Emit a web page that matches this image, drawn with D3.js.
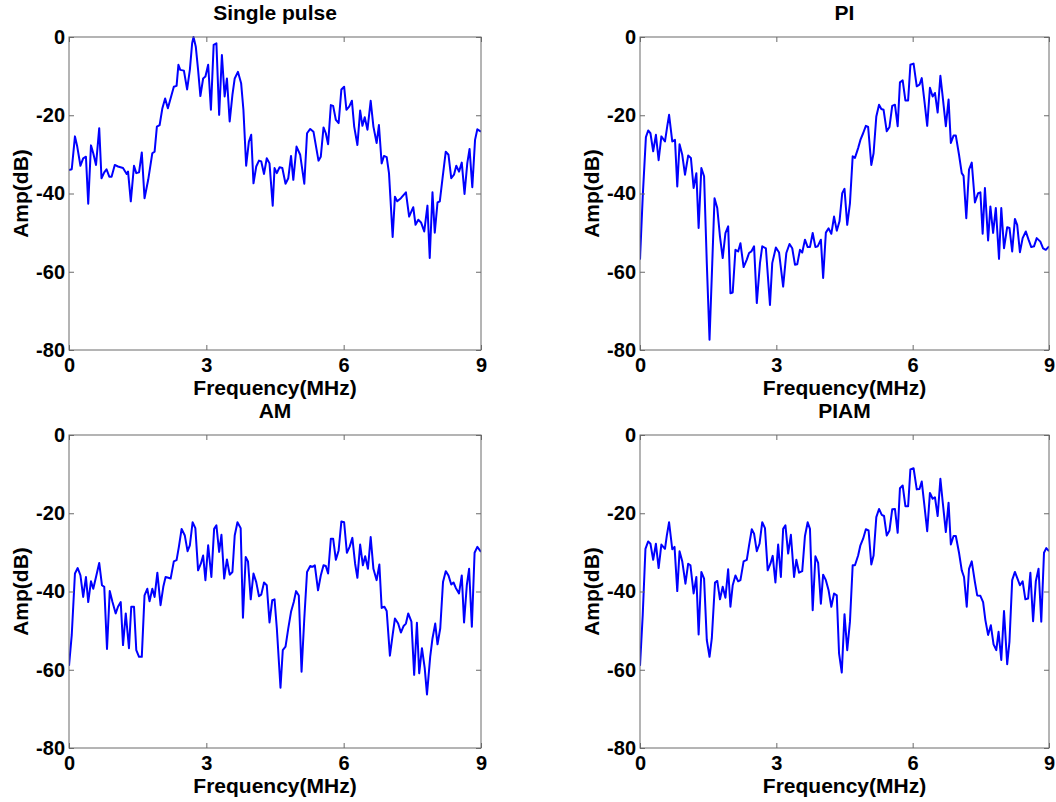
<!DOCTYPE html>
<html>
<head>
<meta charset="utf-8">
<script src="https://cdn.jsdelivr.net/npm/d3@7"></script>
<style>
  html, body { margin: 0; padding: 0; background: #ffffff; }
  svg { display: block; }
  text { font-family: "Liberation Sans", Arial, sans-serif; font-weight: bold; fill: #000; }
</style>
</head>
<body>
<svg id="chart" width="1056" height="802"></svg>
<script>
// ---- Data (frequency in MHz, amplitude in dB) ----
const titles = ["Single pulse", "PI", "AM", "PIAM"];
const xTicks = [0, 3, 6, 9];
const yTicks = [0, -20, -40, -60, -80];
const xLabel = "Frequency(MHz)";
const yLabel = "Amp(dB)";

const freqSingle = [0,0.06,0.13,0.18,0.25,0.31,0.37,0.42,0.48,0.53,
0.59,0.66,0.71,0.77,0.82,0.88,0.93,1.00,1.07,1.18,
1.26,1.29,1.35,1.42,1.47,1.53,1.59,1.65,1.73,1.82,
1.87,1.92,1.98,2.04,2.10,2.16,2.24,2.29,2.35,2.39,
2.43,2.51,2.58,2.64,2.69,2.72,2.77,2.82,2.87,2.93,
2.98,3.04,3.10,3.16,3.22,3.28,3.34,3.40,3.45,3.51,
3.57,3.62,3.69,3.76,3.81,3.87,3.93,3.98,4.03,4.09,
4.15,4.20,4.26,4.32,4.38,4.45,4.49,4.54,4.60,4.66,
4.73,4.79,4.85,4.90,4.97,5.05,5.14,5.20,5.27,5.34,
5.45,5.50,5.56,5.61,5.66,5.72,5.77,5.83,5.89,5.95,
6.01,6.06,6.12,6.18,6.23,6.30,6.36,6.41,6.46,6.52,
6.59,6.65,6.72,6.77,6.83,6.88,6.94,6.99,7.07,7.12,
7.17,7.25,7.36,7.43,7.52,7.57,7.63,7.69,7.76,7.83,
7.88,7.94,7.99,8.05,8.10,8.16,8.23,8.29,8.35,8.41,
8.46,8.52,8.58,8.64,8.70,8.75,8.81,8.87,8.92,9.00];
const ampSingle = [-34.0,-33.8,-25.4,-28.0,-32.9,-31.0,-30.6,-42.6,-27.7,-29.7,
-32.7,-23.3,-36.1,-34.6,-33.8,-35.7,-35.7,-32.7,-33.1,-33.5,
-35.0,-34.4,-42.0,-32.9,-34.8,-34.6,-29.5,-41.2,-36.5,-29.7,
-29.3,-22.9,-22.5,-18.2,-15.7,-18.2,-14.8,-12.7,-12.5,-7.1,
-8.4,-8.6,-13.4,-8.4,-1.6,0,-2.5,-8.4,-15.1,-10.6,
-10.1,-7.1,-18.6,-2.0,-1.6,-19.9,-4.6,-15.2,-10.6,-21.6,
-14.8,-10.6,-8.9,-11.8,-18.6,-32.9,-26.7,-25.0,-37.4,-33.1,
-31.6,-31.8,-35.0,-31.0,-32.3,-43.1,-33.5,-34.8,-33.3,-33.5,
-37.5,-36.1,-30.4,-36.5,-28.0,-30.1,-37.5,-24.6,-23.5,-24.2,
-31.6,-30.6,-23.1,-24.6,-27.4,-17.4,-17.6,-21.2,-22.0,-13.4,
-12.7,-18.6,-17.8,-16.3,-22.9,-27.6,-18.8,-22.7,-20.5,-23.7,
-16.3,-22.9,-27.1,-22.5,-32.3,-30.4,-30.7,-34.8,-51.1,-40.8,
-42.0,-41.2,-39.7,-45.9,-43.5,-48.0,-46.7,-47.4,-49.7,-43.1,
-56.5,-39.7,-50.0,-42.3,-42.0,-36.1,-29.3,-30.1,-36.1,-35.2,
-32.9,-34.4,-32.1,-40.1,-32.3,-28.6,-38.4,-26.3,-23.6,-24.2];

const freqPI = [0,0.06,0.13,0.18,0.23,0.29,0.35,0.41,0.47,0.55,
0.60,0.64,0.71,0.77,0.82,0.87,0.93,0.99,1.06,1.12,
1.18,1.24,1.29,1.35,1.41,1.47,1.53,1.59,1.64,1.70,
1.76,1.82,1.88,1.94,1.99,2.04,2.10,2.16,2.21,2.28,
2.35,2.40,2.45,2.51,2.57,2.64,2.69,2.77,2.86,2.91,
2.99,3.06,3.15,3.22,3.29,3.35,3.41,3.46,3.52,3.57,
3.63,3.69,3.74,3.80,3.86,3.91,3.98,4.03,4.09,4.15,
4.21,4.27,4.33,4.39,4.45,4.50,4.56,4.62,4.68,4.73,
4.80,4.85,4.91,4.97,5.02,5.09,5.14,5.20,5.26,5.31,
5.36,5.43,5.49,5.55,5.61,5.67,5.72,5.78,5.84,5.90,
5.95,6.02,6.09,6.15,6.20,6.26,6.32,6.38,6.44,6.49,
6.55,6.61,6.66,6.73,6.79,6.84,6.90,6.95,7.02,7.08,
7.12,7.18,7.24,7.30,7.37,7.44,7.49,7.54,7.59,7.66,
7.71,7.77,7.83,7.90,7.95,8.01,8.08,8.13,8.19,8.25,
8.30,8.36,8.42,8.49,8.55,8.61,8.67,8.73,8.81,8.87,
8.93,9.00];
const ampPI = [-56.9,-40.8,-25.6,-23.9,-24.6,-29.2,-25.0,-31.5,-25.4,-26.7,
-22.8,-19.9,-26.7,-26.3,-38.2,-27.4,-30.1,-35.2,-30.3,-30.9,
-38.6,-34.8,-48.8,-33.5,-35.6,-57.8,-77.4,-57.8,-41.2,-43.7,
-51.0,-56.5,-50.1,-48.4,-65.5,-65.3,-54.4,-54.8,-52.7,-58.8,
-56.9,-55.2,-54.8,-53.5,-68.0,-57.8,-53.5,-54.0,-68.5,-57.8,
-53.8,-55.1,-63.8,-55.2,-52.9,-54.0,-58.2,-58.1,-54.4,-55.1,
-51.8,-53.7,-53.7,-50.1,-53.7,-53.5,-51.8,-61.6,-50.0,-48.9,
-50.3,-45.9,-49.5,-47.1,-39.9,-38.8,-48.0,-42.5,-30.5,-30.9,
-28.4,-26.3,-24.6,-22.7,-23.0,-32.7,-29.7,-20.3,-17.3,-18.4,
-18.6,-24.1,-23.0,-17.6,-17.3,-22.8,-11.6,-11.1,-16.2,-16.2,
-7.1,-6.8,-12.6,-12.2,-10.5,-16.5,-22.7,-13.0,-15.2,-14.3,
-19.3,-9.9,-15.2,-22.8,-16.0,-27.1,-25.2,-25.2,-30.1,-34.8,
-35.5,-46.3,-33.9,-32.1,-42.3,-39.9,-39.7,-50.3,-38.6,-52.0,
-43.3,-50.1,-43.7,-56.7,-43.7,-54.0,-48.6,-48.8,-54.8,-46.5,
-48.0,-55.0,-51.4,-49.7,-51.8,-53.7,-53.5,-51.4,-52.3,-54.0,
-54.4,-53.5];

const freqAM = [0,0.06,0.13,0.19,0.25,0.31,0.37,0.42,0.48,0.53,
0.59,0.66,0.72,0.77,0.83,0.89,0.95,1.02,1.07,1.13,
1.18,1.24,1.31,1.36,1.42,1.47,1.53,1.59,1.65,1.71,
1.76,1.82,1.87,1.93,2.00,2.06,2.11,2.17,2.22,2.29,
2.35,2.40,2.46,2.53,2.59,2.64,2.70,2.76,2.82,2.88,
2.93,2.98,3.04,3.11,3.17,3.22,3.28,3.33,3.39,3.45,
3.51,3.57,3.62,3.68,3.75,3.80,3.86,3.91,3.97,4.03,
4.09,4.15,4.20,4.26,4.32,4.38,4.44,4.49,4.54,4.62,
4.67,4.73,4.79,4.85,4.91,4.96,5.02,5.08,5.14,5.20,
5.27,5.32,5.37,5.44,5.50,5.56,5.61,5.66,5.72,5.77,
5.83,5.89,5.95,6.01,6.07,6.13,6.19,6.25,6.30,6.36,
6.42,6.47,6.53,6.59,6.65,6.72,6.78,6.83,6.89,6.94,
7.01,7.07,7.12,7.19,7.25,7.31,7.36,7.41,7.48,7.54,
7.60,7.65,7.71,7.77,7.82,7.89,7.94,8.00,8.05,8.11,
8.17,8.23,8.29,8.35,8.40,8.45,8.52,8.58,8.63,8.69,
8.74,8.80,8.86,8.92,9.00];
const ampAM = [-59.0,-51.1,-35.4,-34.0,-35.9,-41.4,-36.3,-42.7,-37.4,-39.3,
-36.3,-32.7,-38.4,-38.8,-54.7,-39.9,-42.7,-45.6,-43.9,-42.7,
-53.7,-45.6,-54.5,-43.9,-43.9,-55.0,-56.7,-56.7,-41.0,-39.3,
-42.5,-39.3,-41.4,-35.2,-43.5,-38.8,-36.3,-36.5,-36.7,-32.3,
-32.0,-28.6,-24.0,-25.7,-29.7,-28.2,-22.3,-23.8,-34.6,-32.9,
-30.8,-37.1,-28.2,-36.3,-24.0,-23.1,-29.9,-25.5,-36.7,-31.8,
-35.7,-35.0,-25.7,-22.3,-23.8,-46.7,-31.2,-32.3,-42.0,-35.4,
-37.6,-41.2,-40.8,-37.7,-38.4,-47.9,-42.2,-42.0,-49.4,-64.6,
-55.0,-54.1,-49.4,-45.2,-42.7,-39.9,-41.0,-60.5,-46.9,-35.0,
-33.5,-33.7,-33.3,-39.7,-35.9,-33.3,-33.5,-35.4,-26.5,-26.5,
-31.9,-29.5,-22.1,-22.3,-30.1,-28.6,-26.3,-32.9,-36.5,-28.0,
-33.3,-31.0,-34.2,-26.1,-34.2,-37.1,-33.1,-44.2,-43.9,-45.0,
-56.4,-51.1,-46.9,-48.2,-50.5,-48.8,-48.2,-45.6,-47.7,-61.3,
-48.0,-60.9,-54.5,-59.5,-66.3,-56.7,-52.0,-48.2,-53.5,-49.4,
-37.6,-34.8,-35.9,-38.2,-37.7,-39.1,-40.5,-35.9,-47.9,-38.4,
-34.2,-49.0,-30.1,-28.6,-29.9];

const freqPIAM = [0,0.06,0.12,0.18,0.23,0.29,0.35,0.41,0.47,0.55,
0.59,0.64,0.71,0.76,0.82,0.87,0.93,1.00,1.06,1.11,
1.18,1.24,1.29,1.35,1.41,1.47,1.53,1.58,1.65,1.70,
1.76,1.82,1.88,1.94,1.99,2.04,2.10,2.16,2.21,2.28,
2.35,2.40,2.46,2.51,2.57,2.63,2.69,2.75,2.81,2.87,
2.92,2.98,3.04,3.10,3.15,3.20,3.26,3.32,3.39,3.44,
3.50,3.57,3.63,3.69,3.74,3.80,3.86,3.92,3.98,4.03,
4.09,4.15,4.21,4.27,4.33,4.38,4.44,4.50,4.56,4.62,
4.68,4.73,4.80,4.85,4.91,4.97,5.03,5.09,5.14,5.20,
5.26,5.32,5.37,5.43,5.49,5.55,5.61,5.67,5.72,5.78,
5.84,5.90,5.95,6.02,6.09,6.15,6.20,6.26,6.32,6.38,
6.44,6.49,6.55,6.61,6.66,6.73,6.79,6.84,6.90,6.95,
7.02,7.08,7.13,7.19,7.24,7.30,7.37,7.42,7.49,7.55,
7.60,7.66,7.72,7.78,7.84,7.89,7.95,8.01,8.08,8.13,
8.19,8.25,8.30,8.36,8.42,8.48,8.54,8.59,8.65,8.71,
8.77,8.83,8.89,8.94,9.00];
const ampPIAM = [-59.0,-46.0,-29.1,-27.2,-27.8,-31.9,-27.8,-34.0,-28.0,-29.1,
-25.7,-22.3,-29.2,-28.6,-39.9,-29.7,-32.3,-38.0,-32.9,-33.3,
-40.5,-36.3,-51.0,-35.0,-36.7,-52.4,-56.7,-52.0,-37.7,-37.3,
-42.0,-38.8,-41.6,-34.3,-43.9,-38.4,-35.9,-37.4,-37.1,-32.3,
-31.9,-28.2,-24.1,-25.2,-29.7,-27.8,-22.3,-23.8,-34.6,-32.9,
-30.9,-37.7,-28.0,-36.3,-24.0,-23.1,-30.3,-25.5,-36.3,-31.9,
-35.2,-34.8,-25.8,-22.3,-24.0,-44.8,-31.0,-32.7,-43.1,-35.7,
-37.1,-39.7,-43.9,-40.5,-41.0,-55.8,-60.7,-45.8,-55.0,-47.7,
-33.3,-33.3,-30.8,-28.2,-26.5,-24.1,-24.4,-33.1,-30.8,-21.0,
-18.9,-20.4,-20.7,-25.7,-24.4,-19.0,-18.9,-25.0,-13.6,-12.9,
-18.2,-18.2,-8.8,-8.5,-13.9,-13.8,-11.9,-18.2,-24.6,-14.8,
-16.3,-15.9,-20.7,-11.2,-17.0,-24.8,-17.3,-28.0,-25.8,-25.8,
-30.1,-34.6,-36.3,-43.9,-34.2,-32.3,-37.6,-41.0,-41.1,-42.7,
-47.3,-51.1,-48.6,-53.5,-55.0,-50.3,-57.5,-45.0,-58.6,-52.8,
-37.1,-35.0,-36.5,-38.4,-37.4,-42.0,-41.8,-35.2,-47.6,-37.4,
-34.2,-47.7,-30.1,-28.9,-29.7];

// ---- Layout ----
const series = [
  { title: titles[0], freq: freqSingle, amp: ampSingle, left: 69,  right: 481,  top: 37,  bottom: 350 },
  { title: titles[1], freq: freqPI,     amp: ampPI,     left: 640, right: 1049, top: 37,  bottom: 350 },
  { title: titles[2], freq: freqAM,     amp: ampAM,     left: 69,  right: 481,  top: 435, bottom: 748 },
  { title: titles[3], freq: freqPIAM,   amp: ampPIAM,   left: 640, right: 1049, top: 435, bottom: 748 }
];

const svg = d3.select("#chart");
const axisColor = "#6a6a6a";
const tickLen = 5;

series.forEach(p => {
  const w = p.right - p.left, h = p.bottom - p.top;
  const x = d3.scaleLinear().domain([0, 9]).range([0, w]);
  const y = d3.scaleLinear().domain([-80, 0]).range([h, 0]);
  const g = svg.append("g").attr("transform", `translate(${p.left},${p.top})`);

  const clipId = "clip" + p.left + "_" + p.top;
  g.append("clipPath").attr("id", clipId)
    .append("rect").attr("x", 0).attr("y", -1).attr("width", w).attr("height", h + 2);

  const pts = d3.zip(p.freq, p.amp);
  const line = d3.line().x(d => x(d[0])).y(d => y(d[1]));
  g.append("path")
    .datum(pts)
    .attr("clip-path", `url(#${clipId})`)
    .attr("d", line)
    .attr("fill", "none")
    .attr("stroke", "#0000ff")
    .attr("stroke-width", 2)
    .attr("stroke-linejoin", "round");

  const ax = [
    g.append("g").attr("transform", `translate(0,${h})`)
      .call(d3.axisBottom(x).tickValues(xTicks).tickSizeInner(-tickLen).tickSizeOuter(0).tickPadding(8).tickFormat(d3.format("d"))),
    g.append("g")
      .call(d3.axisTop(x).tickValues(xTicks).tickSizeInner(-tickLen).tickSizeOuter(0).tickFormat("")),
    g.append("g")
      .call(d3.axisLeft(y).tickValues(yTicks).tickSizeInner(-tickLen).tickSizeOuter(0).tickPadding(4).tickFormat(d3.format("d"))),
    g.append("g").attr("transform", `translate(${w},0)`)
      .call(d3.axisRight(y).tickValues(yTicks).tickSizeInner(-tickLen).tickSizeOuter(0).tickFormat(""))
  ];
  ax.forEach(a => {
    a.select(".domain").remove();
    a.selectAll(".tick line").attr("stroke", axisColor);
    a.selectAll(".tick text")
      .attr("fill", "#000")
      .style("font-family", '"Liberation Sans", Arial, sans-serif')
      .style("font-weight", "bold")
      .style("font-size", "20px");
  });
  ax[2].selectAll(".tick text").text(d => String(d));

  g.append("rect")
    .attr("x", 0).attr("y", 0).attr("width", w).attr("height", h)
    .attr("fill", "none").attr("stroke", axisColor).attr("stroke-width", 1);

  g.append("text")
    .attr("x", w / 2).attr("y", -17)
    .attr("text-anchor", "middle")
    .style("font-size", "21px")
    .text(p.title);

  g.append("text")
    .attr("x", w / 2).attr("y", h + 45)
    .attr("text-anchor", "middle")
    .style("font-size", "21px")
    .text(xLabel);

  g.append("text")
    .attr("transform", `translate(-41,${h / 2}) rotate(-90)`)
    .attr("text-anchor", "middle")
    .style("font-size", "21px")
    .text(yLabel);
});
</script>
</body>
</html>
